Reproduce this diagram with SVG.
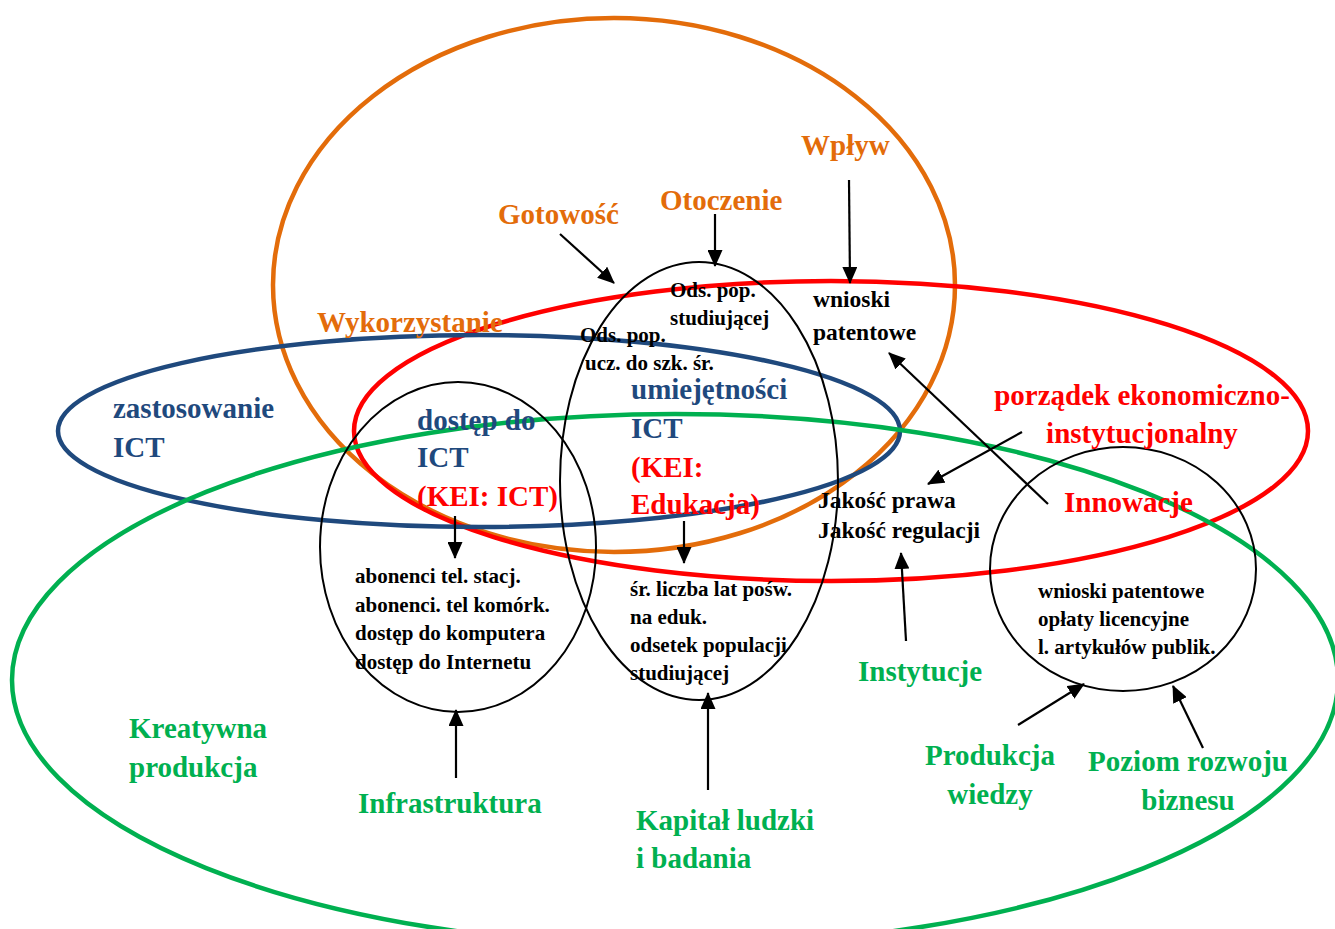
<svg xmlns="http://www.w3.org/2000/svg" width="1335" height="929" viewBox="0 0 1335 929">
  <style>
    text { font-family: "Liberation Serif", "Times New Roman", serif; font-weight: bold; }
    .big { font-size: 29px; }
    .mid { font-size: 23.5px; fill: #000; }
    .small { font-size: 21px; fill: #000; }
    .orange { fill: #E36C0A; }
    .blue { fill: #1F497D; }
    .red { fill: #FF0000; }
    .green { fill: #00B050; }
    .ring { fill: none; stroke-width: 4.5; }
    .cell { fill: none; stroke: #000; stroke-width: 2; }
    .conn { stroke: #000; stroke-width: 2.2; fill: none; marker-end: url(#head); }
  </style>
  <defs>
    <marker id="head" markerUnits="userSpaceOnUse" markerWidth="17" markerHeight="15" viewBox="0 0 17 15" refX="16" refY="7.5" orient="auto">
      <path d="M0,0 L17,7.5 L0,15 z" fill="#000"/>
    </marker>
  </defs>
  <rect width="1335" height="929" fill="#fff"/>

  <!-- large index domains -->
  <g id="domain-wykorzystanie">
    <ellipse class="ring" cx="614" cy="285" rx="341" ry="267" stroke="#E36C0A"/>
  </g>
  <g id="domain-porzadek">
    <ellipse class="ring" cx="831" cy="431" rx="477" ry="150" stroke="#FF0000"/>
  </g>
  <g id="domain-zastosowanie">
    <ellipse class="ring" cx="479" cy="431" rx="421" ry="96" stroke="#1F497D"/>
  </g>
  <g id="domain-kreatywna">
    <ellipse class="ring" cx="675" cy="680" rx="663" ry="266" stroke="#00B050"/>
  </g>

  <!-- indicator clusters -->
  <g id="node-dostep">
    <ellipse class="cell" cx="458" cy="547" rx="138" ry="165"/>
    <text class="big blue" x="417" y="430">dostęp do</text>
    <text class="big blue" x="417" y="467">ICT</text>
    <text class="big red" x="417" y="506">(KEI: ICT)</text>
    <text class="small" x="355" y="583">abonenci tel. stacj.</text>
    <text class="small" x="355" y="612">abonenci. tel komórk.</text>
    <text class="small" x="355" y="640">dostęp do komputera</text>
    <text class="small" x="355" y="669">dostęp do Internetu</text>
  </g>
  <g id="node-umiejetnosci">
    <ellipse class="cell" cx="699" cy="481" rx="139" ry="219"/>
    <text class="small" x="670" y="297">Ods. pop.</text>
    <text class="small" x="670" y="325">studiującej</text>
    <text class="small" x="580" y="342">Ods. pop.</text>
    <text class="small" x="585" y="370">ucz. do szk. śr.</text>
    <text class="big blue" x="631" y="399">umiejętności</text>
    <text class="big blue" x="631" y="438">ICT</text>
    <text class="big red" x="631" y="477">(KEI:</text>
    <text class="big red" x="631" y="514">Edukacja)</text>
    <text class="small" x="630" y="596">śr. liczba lat pośw.</text>
    <text class="small" x="630" y="624">na eduk.</text>
    <text class="small" x="630" y="652">odsetek populacji</text>
    <text class="small" x="630" y="680">studiującej</text>
  </g>
  <g id="node-innowacje">
    <ellipse class="cell" cx="1123" cy="569" rx="133" ry="122"/>
    <text class="big red" x="1064" y="512">Innowacje</text>
    <text class="small" x="1038" y="598">wnioski patentowe</text>
    <text class="small" x="1038" y="626">opłaty licencyjne</text>
    <text class="small" x="1038" y="654">l. artykułów publik.</text>
  </g>
  <g id="node-wnioski">
    <text class="mid" x="813" y="307">wnioski</text>
    <text class="mid" x="813" y="340">patentowe</text>
  </g>
  <g id="node-jakosc">
    <text class="mid" x="818" y="508">Jakość prawa</text>
    <text class="mid" x="818" y="538">Jakość regulacji</text>
  </g>

  <!-- domain and pillar labels -->
  <g id="label-wplyw"><text class="big orange" x="801" y="155">Wpływ</text></g>
  <g id="label-otoczenie"><text class="big orange" x="660" y="210">Otoczenie</text></g>
  <g id="label-gotowosc"><text class="big orange" x="498" y="224">Gotowość</text></g>
  <g id="label-wykorzystanie"><text class="big orange" x="317" y="332">Wykorzystanie</text></g>
  <g id="label-zastosowanie">
    <text class="big blue" x="113" y="418">zastosowanie</text>
    <text class="big blue" x="113" y="457">ICT</text>
  </g>
  <g id="label-porzadek">
    <text class="big red" x="1142" y="405" text-anchor="middle">porządek ekonomiczno-</text>
    <text class="big red" x="1142" y="443" text-anchor="middle">instytucjonalny</text>
  </g>
  <g id="label-kreatywna">
    <text class="big green" x="129" y="738">Kreatywna</text>
    <text class="big green" x="129" y="777">produkcja</text>
  </g>
  <g id="label-infrastruktura"><text class="big green" x="358" y="813">Infrastruktura</text></g>
  <g id="label-kapital">
    <text class="big green" x="636" y="830">Kapitał ludzki</text>
    <text class="big green" x="636" y="868">i badania</text>
  </g>
  <g id="label-instytucje"><text class="big green" x="858" y="681">Instytucje</text></g>
  <g id="label-produkcja">
    <text class="big green" x="990" y="765" text-anchor="middle">Produkcja</text>
    <text class="big green" x="990" y="804" text-anchor="middle">wiedzy</text>
  </g>
  <g id="label-poziom">
    <text class="big green" x="1188" y="771" text-anchor="middle">Poziom rozwoju</text>
    <text class="big green" x="1188" y="810" text-anchor="middle">biznesu</text>
  </g>

  <!-- connectors -->
  <g id="connectors">
    <line class="conn" x1="560" y1="234" x2="614" y2="283"/>
    <line class="conn" x1="715" y1="214" x2="715" y2="266"/>
    <line class="conn" x1="849" y1="180" x2="850" y2="283"/>
    <line class="conn" x1="1048" y1="504" x2="889" y2="353"/>
    <line class="conn" x1="1022" y1="432" x2="928" y2="484"/>
    <line class="conn" x1="455" y1="516" x2="455" y2="558"/>
    <line class="conn" x1="684" y1="521" x2="684" y2="563"/>
    <line class="conn" x1="456" y1="778" x2="456" y2="710"/>
    <line class="conn" x1="708" y1="790" x2="708" y2="693"/>
    <line class="conn" x1="906" y1="641" x2="901" y2="553"/>
    <line class="conn" x1="1018" y1="725" x2="1084" y2="684"/>
    <line class="conn" x1="1203" y1="748" x2="1173" y2="686"/>
  </g>
</svg>
